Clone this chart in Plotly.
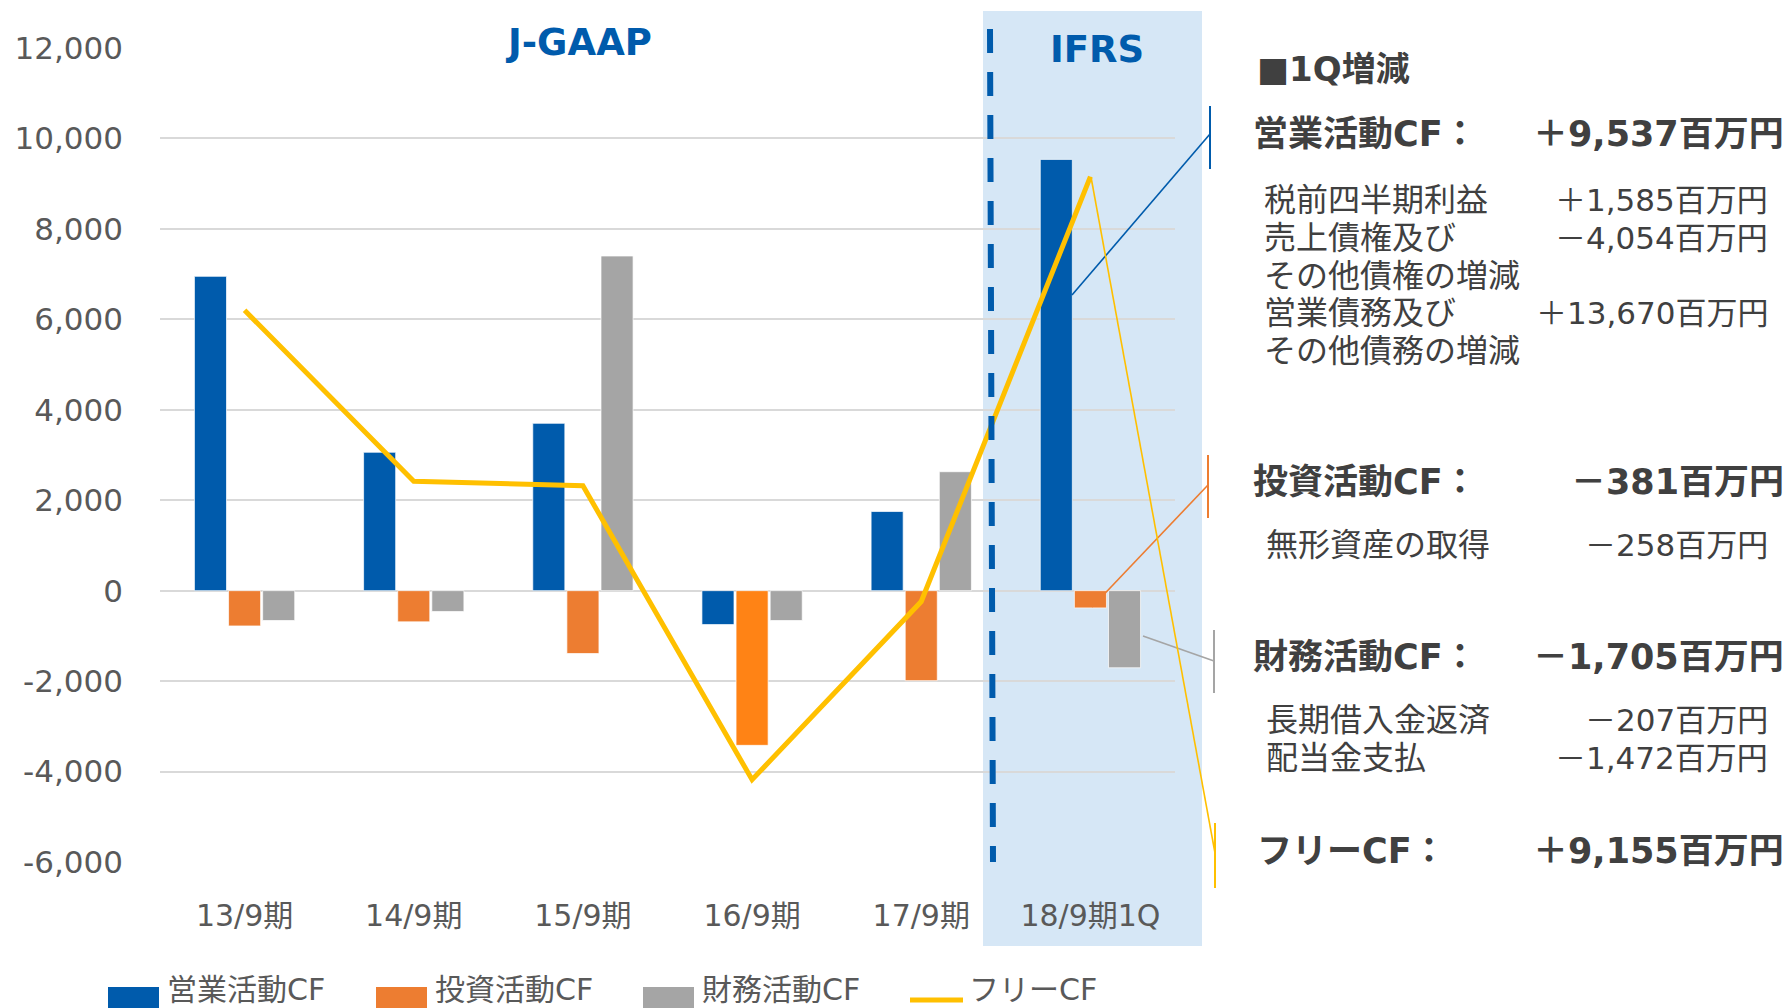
import plotly.graph_objects as go

# ---------------- data ----------------
categories = ["13/9期", "14/9期", "15/9期", "16/9期", "17/9期", "18/9期1Q"]
operating_cf = [6950, 3060, 3700, -750, 1750, 9537]
investing_cf = [-780, -690, -1390, -3420, -1990, -381]
financing_cf = [-660, -460, 7400, -660, 2630, -1705]
free_cf = [6200, 2420, 2320, -4180, -240, 9155]

series_names = ["営業活動CF", "投資活動CF", "財務活動CF", "フリーCF"]
y_tick_values = [-6000, -4000, -2000, 0, 2000, 4000, 6000, 8000, 10000, 12000]
y_tick_labels = ["-6,000", "-4,000", "-2,000", "0", "2,000", "4,000", "6,000", "8,000", "10,000", "12,000"]

panel_title = "■1Q増減"
panel_heads = ["営業活動CF：", "投資活動CF：", "財務活動CF：", "フリーCF："]
panel_head_values = ["＋9,537百万円", "－381百万円", "－1,705百万円", "＋9,155百万円"]
panel_items = ["税前四半期利益", "売上債権及び", "その他債権の増減", "営業債務及び", "その他債務の増減",
               "無形資産の取得", "長期借入金返済", "配当金支払"]
panel_item_values = ["＋1,585百万円", "－4,054百万円", "", "＋13,670百万円", "",
                     "－258百万円", "－207百万円", "－1,472百万円"]

# ---------------- style ----------------
BLUE = "#005BAC"
ORANGE = "#ED7D31"
ORANGE_HI = "#FF8315"
GRAY = "#A5A5A5"
YELLOW = "#FFC000"
SHADE = "#D6E7F6"
TXT = "#595959"
DARK = "#404040"
FONT = "DejaVu Sans, Noto Sans CJK JP, sans-serif"

W, H = 1792, 1008
L, R, T, B = 160, 1175, 48, 862  # plot area in pixels


def px(x):
    return (x - L) / (R - L)


def py(y):
    return (B - y) / (B - T)


investing_colors = [ORANGE, ORANGE, ORANGE, ORANGE_HI, ORANGE, ORANGE]

fig = go.Figure()
bar_line = dict(width=1, color="rgba(255,255,255,0.7)")
fig.add_trace(go.Bar(x=categories, y=operating_cf, name=series_names[0],
                     marker=dict(color=BLUE, line=bar_line)))
fig.add_trace(go.Bar(x=categories, y=investing_cf, name=series_names[1],
                     marker=dict(color=investing_colors, line=bar_line)))
fig.add_trace(go.Bar(x=categories, y=financing_cf, name=series_names[2],
                     marker=dict(color=GRAY, line=bar_line)))
fig.add_trace(go.Scatter(x=categories, y=free_cf, name=series_names[3], mode="lines",
                         line=dict(color=YELLOW, width=5)))

shapes = []
# IFRS shaded region
shapes.append(dict(type="rect", xref="paper", yref="paper", x0=px(983), x1=px(1202),
                   y0=py(946), y1=py(11), fillcolor=SHADE, line=dict(width=0), layer="below"))
# dashed divider
shapes.append(dict(type="line", xref="paper", yref="paper", x0=px(990), y0=py(29),
                   x1=px(993), y1=py(862), line=dict(color=BLUE, width=6, dash="24px,19px"),
                   layer="above"))


def leader(x0, y0, x1, y1, t0, t1, color):
    shapes.append(dict(type="line", xref="paper", yref="paper", x0=px(x0), y0=py(y0),
                       x1=px(x1), y1=py(y1), line=dict(color=color, width=1.6), layer="above"))
    shapes.append(dict(type="line", xref="paper", yref="paper", x0=px(x1), y0=py(t0),
                       x1=px(x1), y1=py(t1), line=dict(color=color, width=2), layer="above"))


leader(1072, 295, 1210, 134, 106, 169, BLUE)
leader(1092, 607, 1208, 485, 455, 518, ORANGE)
leader(1143, 636, 1214, 661, 630, 693, GRAY)
leader(1091, 177, 1215, 853, 823, 888, YELLOW)

# custom legend
legend_x = [108, 376, 643, 910]
legend_colors = [BLUE, ORANGE, GRAY, YELLOW]
annotations = []
for i, (lx, c) in enumerate(zip(legend_x, legend_colors)):
    if i < 3:
        shapes.append(dict(type="rect", xref="paper", yref="paper", x0=px(lx), x1=px(lx + 51),
                           y0=py(1012), y1=py(987), fillcolor=c, line=dict(width=0)))
    else:
        shapes.append(dict(type="line", xref="paper", yref="paper", x0=px(lx), x1=px(lx + 53),
                           y0=py(1000), y1=py(1000), line=dict(color=c, width=5)))
    annotations.append(dict(xref="paper", yref="paper", x=px(lx + 57), y=py(989),
                            xanchor="left", yanchor="middle", showarrow=False,
                            text=series_names[i], font=dict(family=FONT, size=30, color=TXT)))

# region labels
annotations.append(dict(xref="paper", yref="paper", x=px(578), y=py(43), text="<b>J-GAAP</b>",
                        showarrow=False, xanchor="center", yanchor="middle",
                        font=dict(family="DejaVu Sans", size=37, color=BLUE)))
annotations.append(dict(xref="paper", yref="paper", x=px(1097), y=py(49), text="<b>IFRS</b>",
                        showarrow=False, xanchor="center", yanchor="middle",
                        font=dict(family="DejaVu Sans", size=37, color=BLUE)))

# right panel
annotations.append(dict(xref="paper", yref="paper", x=px(1255), y=py(69), text="<b>" + panel_title + "</b>",
                        showarrow=False, xanchor="left", yanchor="middle",
                        font=dict(family=FONT, size=34, color=DARK)))
head_y = [134, 482, 657, 851]
head_x = [1251, 1251, 1251, 1255]
for hx, hy, h, v in zip(head_x, head_y, panel_heads, panel_head_values):
    annotations.append(dict(xref="paper", yref="paper", x=px(hx), y=py(hy), text="<b>" + h + "</b>",
                            showarrow=False, xanchor="left", yanchor="middle",
                            font=dict(family=FONT, size=35, color=DARK)))
    annotations.append(dict(xref="paper", yref="paper", x=px(1786), y=py(hy), text="<b>" + v + "</b>",
                            showarrow=False, xanchor="right", yanchor="middle",
                            font=dict(family=FONT, size=35, color=DARK)))
item_y = [200, 238, 276, 313, 351, 545, 720, 758]
item_x = [1262, 1262, 1262, 1262, 1262, 1264, 1264, 1264]
for ix, iy, t, v in zip(item_x, item_y, panel_items, panel_item_values):
    annotations.append(dict(xref="paper", yref="paper", x=px(ix), y=py(iy), text=t,
                            showarrow=False, xanchor="left", yanchor="middle",
                            font=dict(family=FONT, size=32, color=DARK)))
    if v:
        annotations.append(dict(xref="paper", yref="paper", x=px(1770), y=py(iy), text=v,
                                showarrow=False, xanchor="right", yanchor="middle",
                                font=dict(family=FONT, size=31, color=DARK)))

fig.update_layout(
    width=W, height=H, autosize=False,
    margin=dict(l=L, r=W - R, t=T, b=H - B, pad=0),
    paper_bgcolor="white", plot_bgcolor="rgba(0,0,0,0)",
    barmode="group", bargap=0.395, bargroupgap=0.06,
    showlegend=False,
    shapes=shapes, annotations=annotations,
    font=dict(family=FONT, color=TXT),
)
fig.update_xaxes(type="category", range=[-0.5, 5.5], showgrid=False, zeroline=False,
                 showline=False, ticks="", tickfont=dict(family=FONT, size=30, color=TXT),
                 ticklabelstandoff=33)
fig.update_yaxes(range=[-6000, 12000], tickvals=y_tick_values, ticktext=y_tick_labels,
                 showgrid=True, gridcolor="#D9D9D9", gridwidth=2, zeroline=False,
                 showline=False, ticks="", tickfont=dict(family=FONT, size=31, color=TXT),
                 ticklabelstandoff=36)

fig.write_html(
    "out.html",
    config={"displayModeBar": False},
    post_script="document.body.style.margin='0';document.body.style.overflow='hidden';",
)
